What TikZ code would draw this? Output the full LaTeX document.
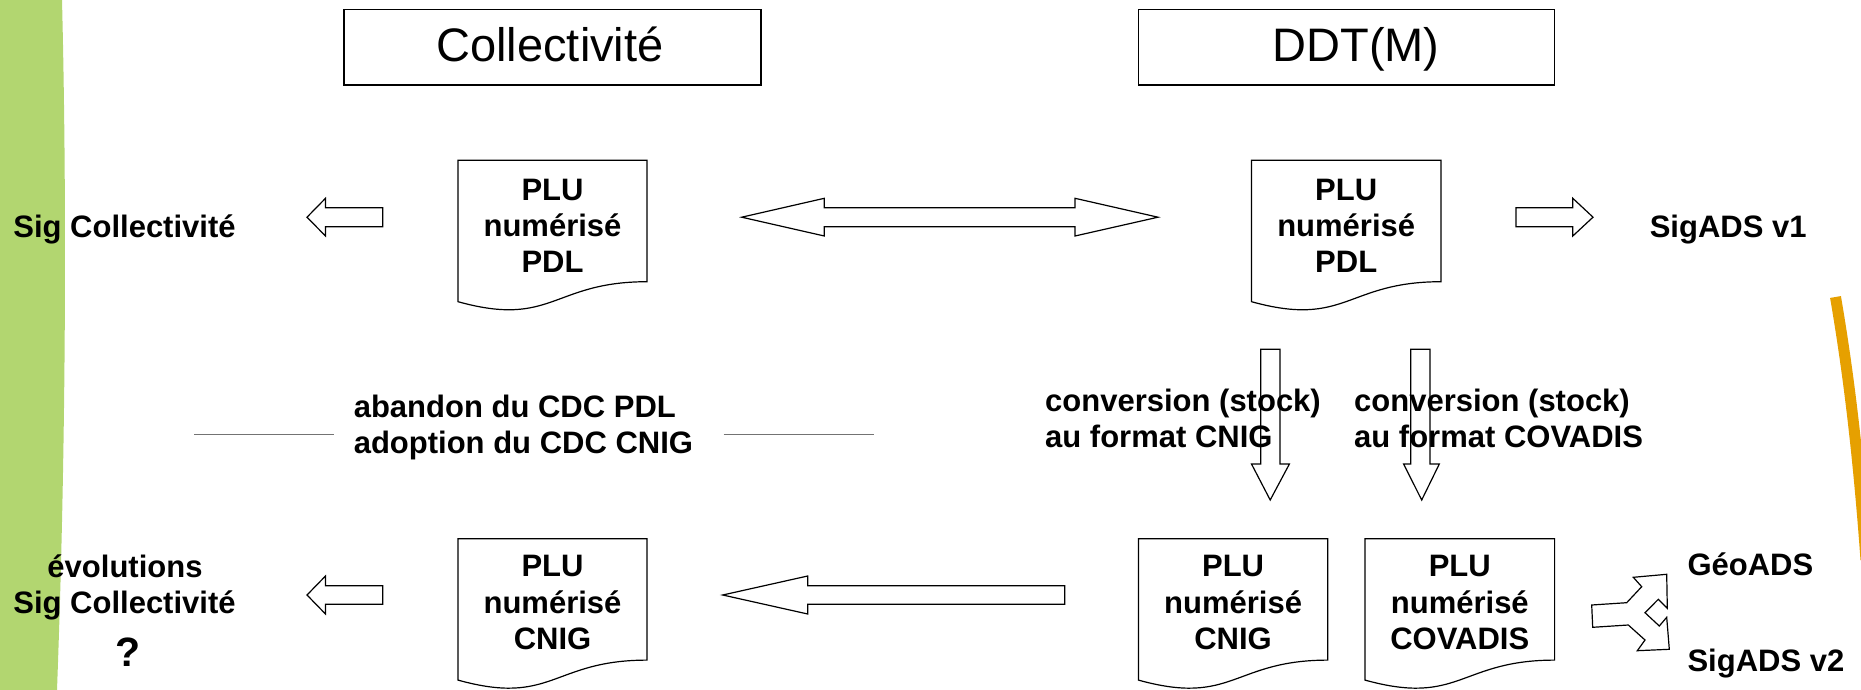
\documentclass[tikz,border=0pt]{standalone}
\usepackage{fontspec}
\setmainfont{Liberation Sans}
\definecolor{bandgreen}{RGB}{178,214,112}
\definecolor{arcorange}{RGB}{230,160,0}
\definecolor{sepgray}{RGB}{115,115,115}
\newcommand\docshape[5]{%
  \draw[shp] (#2,#3) -- ({#2+#4},#3) -- ({#2+#4},{#3+0.80194*#5})
    .. controls ({#2+#4/2},{#3+0.80194*#5}) and ({#2+#4/2},{#3+1.1075*#5}) .. (#2,{#3+0.93389*#5}) -- cycle;
  \coordinate (#1) at ({#2+#4/2},#3);}
\begin{document}
\begin{tikzpicture}[x=1pt,y=-1pt,
  shp/.style={draw=black, line width=1.2pt, fill=white, line join=miter},
  blk/.style={draw=black, line width=1.2pt, line join=miter},
  lbl/.style={font=\bfseries\fontsize{31}{36.4}\selectfont, inner sep=0pt},
  ttl/.style={font=\fontsize{47}{56}\selectfont, inner sep=0pt},
  titlebox/.style={draw=black, line width=1.2pt, inner sep=0pt}]
\useasboundingbox (0,0) rectangle (1861,690);
\clip (0,0) rectangle (1861,690);
% decorations
\fill[bandgreen] (0,0) -- (62,0) .. controls (67,200) and (66,450) .. (57,690) -- (0,690) -- cycle;
\draw[arcorange, line width=11pt] (1835.5,297) .. controls (1848,370) and (1858,450) .. (1866,560);
% title boxes
\draw[titlebox] (344,9.5) rectangle (761,85);
\coordinate (collbox) at (552.5,47);
\node[ttl, anchor=base] (tcoll) at (550,61.7) {Collectivité};
\draw[titlebox] (1138.4,9.5) rectangle (1554.6,85);
\coordinate (ddtbox) at (1346.5,47);
\node[ttl, anchor=base] (tddt) at (1356,61.7) {DDT(M)};
% documents (node anchor base = baseline of last line)
\docshape{d1}{458}{160.3}{189}{151.4}
\node[lbl, align=center, anchor=base] (t1) at (552.5,272.8) {PLU\\numérisé\\PDL};
\docshape{d2}{1251.5}{160.3}{189.5}{151.4}
\node[lbl, align=center, anchor=base] (t2) at (1346.2,272.8) {PLU\\numérisé\\PDL};
\docshape{d3}{458}{538.7}{189}{151.4}
\node[lbl, align=center, anchor=base] (t3) at (552.5,649.5) {PLU\\numérisé\\CNIG};
\docshape{d4}{1138.4}{538.7}{189.4}{151.4}
\node[lbl, align=center, anchor=base] (t4) at (1233.1,649.5) {PLU\\numérisé\\CNIG};
\docshape{d5}{1365}{538.7}{189.6}{151.4}
\node[lbl, align=center, anchor=base] (t5) at (1459.8,649.5) {PLU\\numérisé\\COVADIS};
% outer labels
\node[lbl, anchor=base] (sig1) at (124.5,237) {Sig Collectivité};
\node[lbl, anchor=base] (evo) at (125,577) {évolutions};
\node[lbl, anchor=base] (sig2) at (124.5,613.5) {Sig Collectivité};
\node[lbl, anchor=base, font=\bfseries\fontsize{41}{44}\selectfont] (qm) at (128,666) {?};
\node[lbl, anchor=base west] (ads1) at (1649.6,237.3) {SigADS v1};
\node[lbl, anchor=base west] (geo) at (1687.3,575) {GéoADS};
\node[lbl, anchor=base west] (ads2) at (1687.3,671.7) {SigADS v2};
% middle texts
\node[lbl, anchor=base west] (ab1) at (353.6,417.3) {abandon du CDC PDL};
\node[lbl, anchor=base west] (ab2) at (353.6,453.3) {adoption du CDC CNIG};
\draw[sepgray, line width=1.5pt] (194,434.3) -- (334,434.3);
\draw[sepgray, line width=1.5pt] (723.5,434.3) -- (873.6,434.3);
\node[lbl, anchor=base west] (cv1) at (1045,411) {conversion (stock)};
\node[lbl, anchor=base west] (cv2) at (1045,447) {au format CNIG};
\node[lbl, anchor=base west] (cv3) at (1354,411) {conversion (stock)};
\node[lbl, anchor=base west] (cv4) at (1354,447) {au format COVADIS};
% block arrows
\draw[blk] (382.7,207.7) -- (325.5,207.7) -- (325.5,198.3) -- (307,217.2) -- (325.5,236) -- (325.5,226.7) -- (382.7,226.7) -- cycle;
\draw[blk] (382.7,585.7) -- (325.5,585.7) -- (325.5,576) -- (307,595) -- (325.5,614) -- (325.5,604.3) -- (382.7,604.3) -- cycle;
\draw[blk] (741.7,217.2) -- (824.3,198.3) -- (824.3,207.7) -- (1075,207.7) -- (1075,198.3) -- (1158,217.2) -- (1075,236) -- (1075,226.7) -- (824.3,226.7) -- (824.3,236) -- cycle;
\draw[blk] (1516,207.7) -- (1572.8,207.7) -- (1572.8,198.3) -- (1593,217.2) -- (1572.8,236) -- (1572.8,226.7) -- (1516,226.7) -- cycle;
\draw[blk] (1064.8,585.7) -- (807.7,585.7) -- (807.7,576) -- (722.7,595) -- (807.7,614) -- (807.7,604.3) -- (1064.8,604.3) -- cycle;
\draw[blk] (1260.8,349.3) -- (1280,349.3) -- (1280,464) -- (1289.4,464) -- (1270.2,500) -- (1251.5,464) -- (1260.8,464) -- cycle;
\draw[blk] (1410.8,349.3) -- (1430,349.3) -- (1430,464) -- (1439.3,464) -- (1421.7,500) -- (1403.6,464) -- (1410.8,464) -- cycle;
% fork arrow
\draw[blk] (1591.7,605) -- (1626.7,602.7) -- (1641.7,586.7) -- (1633.3,577.3) -- (1666.7,574.3) -- (1667.3,608.3) -- (1658.3,599.3) -- (1645,612.7) -- (1659.3,626) -- (1666.7,617.3) -- (1669.3,649.3) -- (1637.3,650.7) -- (1645,640) -- (1628.3,625) -- (1592.7,627.3) -- cycle;
\end{tikzpicture}
\end{document}
